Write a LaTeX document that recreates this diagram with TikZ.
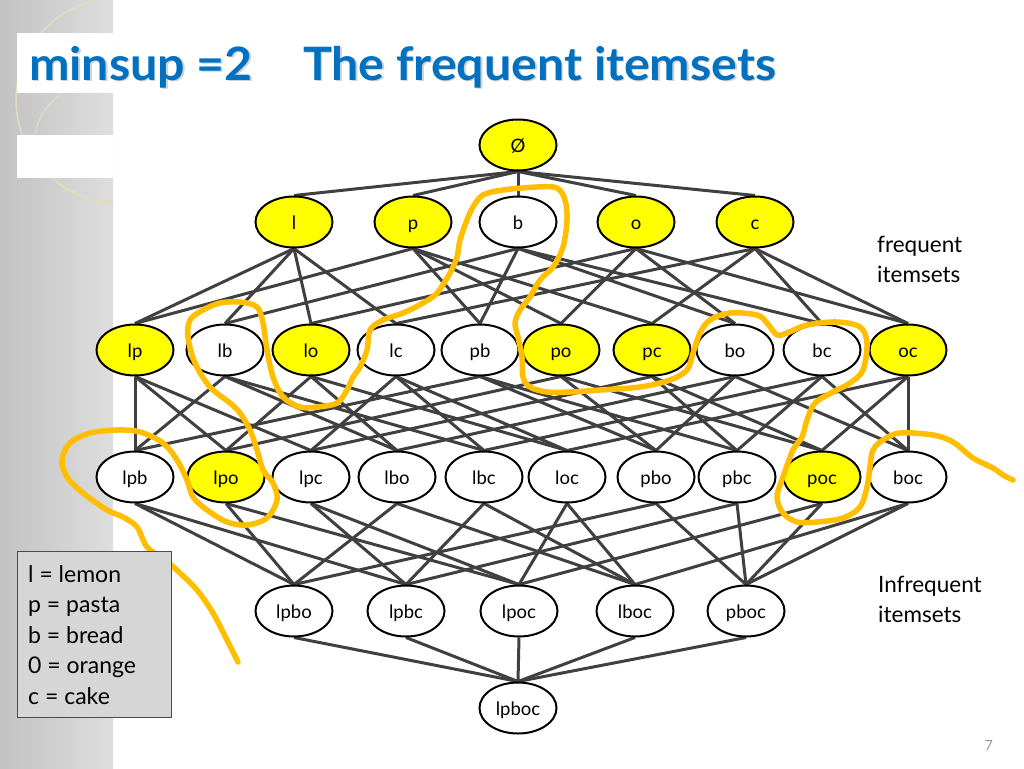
\documentclass[tikz,border=0pt]{standalone}
\usepackage{fontspec}
\setmainfont{Lato}
\newfontfamily\titlefont[FakeStretch=1.05]{Lato}
\usetikzlibrary{shapes.geometric}
\definecolor{titleblue}{RGB}{0,112,192}
\definecolor{hl}{RGB}{255,190,0}
\definecolor{nodeyellow}{RGB}{255,255,0}
\definecolor{arccol}{RGB}{225,220,190}
\definecolor{pagegray}{RGB}{150,150,135}
\pgfdeclarelayer{bglayer}
\pgfdeclarelayer{edgelayer}
\pgfsetlayers{bglayer,edgelayer,main}
\begin{document}
\begin{tikzpicture}[x=1pt,y=-1pt,
  setnode/.style={ellipse, draw=black, line width=2pt, minimum width=77pt, minimum height=51pt,
    inner sep=0pt, fill=white, font=\fontsize{18.5}{18.5}\selectfont, text height=17pt, text depth=2.5pt},
  freq/.style={setnode, fill=nodeyellow},
  latedge/.style={draw=black!75, line width=3pt},
  hand/.style={draw=hl, line width=5.5pt, line cap=round, line join=round},
  titletext/.style={anchor=base west, text=titleblue, font=\titlefont\fontsize{46}{46}\selectfont\bfseries, inner sep=0pt},
  titleshadow/.style={anchor=base west, text=black!18, font=\titlefont\fontsize{46}{46}\selectfont\bfseries, inner sep=0pt},
  sidelabel/.style={anchor=base west, font=\fontsize{22.5}{22.5}\selectfont, inner sep=0pt},
  legendline/.style={anchor=base west, font=\fontsize{23}{23}\selectfont, inner sep=0pt},
  legendbox/.style={draw=black!70, fill=black!16, line width=1pt, minimum width=154pt, minimum height=166pt, inner sep=0pt}
]
\useasboundingbox (0,0) rectangle (1024,768);
\begin{pgfonlayer}{bglayer}
% background strip
\shade[left color=black!24, right color=black!13] (0,0) rectangle (113,768);
\begin{scope}
  \clip (0,0) rectangle (113,210);
  \draw[arccol, line width=1.5pt] (118,100) circle [radius=102];
  \draw[arccol, line width=1.2pt] (125,140) ellipse [x radius=90, y radius=65];
\end{scope}
\fill[white] (17,33) rectangle (113,93);
\fill[white] (17,135) rectangle (113,178);
\end{pgfonlayer}

% title
\node[titleshadow] (s1) at (30.5,81.5) {minsup =2};
\node[titleshadow] (s2) at (304.5,81.5) {The frequent itemsets};
\node[titletext] (t1) at (29,80) {minsup =2};
\node[titletext] (t2) at (303,80) {The frequent itemsets};

% nodes
\node[freq] (e) at (518,145) {Ø};
\node[freq] (l) at (294,222) {l};
\node[freq] (p) at (413,222) {p};
\node[setnode] (b) at (518,222) {b};
\node[freq] (o) at (636,222) {o};
\node[freq] (c) at (755,222) {c};

\node[freq] (lp) at (135,350) {lp};
\node[setnode] (lb) at (225,350) {lb};
\node[freq] (lo) at (311,350) {lo};
\node[setnode] (lc) at (396,350) {lc};
\node[setnode] (pb) at (480,350) {pb};
\node[freq] (po) at (561,350) {po};
\node[freq] (pc) at (652,350) {pc};
\node[setnode] (bo) at (735,350) {bo};
\node[setnode] (bc) at (822,350) {bc};
\node[freq] (oc) at (908,350) {oc};

\node[setnode] (lpb) at (135,477) {lpb};
\node[freq] (lpo) at (226,477) {lpo};
\node[setnode] (lpc) at (311,477) {lpc};
\node[setnode] (lbo) at (397,477) {lbo};
\node[setnode] (lbc) at (484,477) {lbc};
\node[setnode] (loc) at (567,477) {loc};
\node[setnode] (pbo) at (656,477) {pbo};
\node[setnode] (pbc) at (737,477) {pbc};
\node[freq] (poc) at (822,477) {poc};
\node[setnode] (boc) at (908,477) {boc};

\node[setnode] (lpbo) at (294,611) {lpbo};
\node[setnode] (lpbc) at (406,611) {lpbc};
\node[setnode] (lpoc) at (519,611) {lpoc};
\node[setnode] (lboc) at (635,611) {lboc};
\node[setnode] (pboc) at (746,611) {pboc};

\node[setnode] (lpboc) at (518,708) {lpboc};

% edges (behind nodes)
\begin{pgfonlayer}{edgelayer}
\foreach \a/\b in {e/l,e/p,e/b,e/o,e/c,
  l/lp,l/lb,l/lo,l/lc, p/lp,p/pb,p/po,p/pc, b/lb,b/pb,b/bo,b/bc, o/lo,o/po,o/bo,o/oc, c/lc,c/pc,c/bc,c/oc,
  lp/lpb,lp/lpo,lp/lpc, lb/lpb,lb/lbo,lb/lbc, lo/lpo,lo/lbo,lo/loc, lc/lpc,lc/lbc,lc/loc,
  pb/lpb,pb/pbo,pb/pbc, po/lpo,po/pbo,po/poc, pc/lpc,pc/pbc,pc/poc, bo/lbo,bo/pbo,bo/boc,
  bc/lbc,bc/pbc,bc/boc, oc/loc,oc/poc,oc/boc,
  lpb/lpbo,lpb/lpbc, lpo/lpbo,lpo/lpoc, lpc/lpbc,lpc/lpoc, lbo/lpbo,lbo/lboc, lbc/lpbc,lbc/lboc,
  loc/lpoc,loc/lboc, pbo/lpbo,pbo/pboc, pbc/lpbc,pbc/pboc, poc/lpoc,poc/pboc, boc/lboc,boc/pboc,
  lpbo/lpboc,lpbc/lpboc,lpoc/lpboc,lboc/lpboc,pboc/lpboc}
  {\draw[latedge] (\a.south) -- (\b.north);}
\end{pgfonlayer}

% side labels
\node[sidelabel] (f1) at (877,252) {frequent};
\node[sidelabel] (f2) at (877,282) {itemsets};
\node[sidelabel] (i1) at (878,592) {Infrequent};
\node[sidelabel] (i2) at (878,622) {itemsets};
\node[anchor=base, text=pagegray, font=\fontsize{14}{14}\selectfont, inner sep=0pt] (pg) at (989,750) {7};

% hand-drawn annotation
\draw[hand] plot[smooth, tension=0.55] coordinates {
(238,662) (227,640) (213,613) (197,590) (180,573) (165,560) (147,547) (137,527) (123,517) (107,510)
(83,493) (67,477) (62,460) (70,443) (90,433) (117,430) (140,432) (163,443) (177,460) (187,480)
(193,497) (207,510) (227,522) (247,525) (267,518) (277,500) (273,483) (263,470) (257,450) (250,430)
(240,413) (230,403) (210,387) (195,363) (188,337) (190,320) (203,310) (220,303) (240,302) (257,307)
(263,323) (267,350) (273,377) (283,397) (300,407) (317,407) (337,403) (347,390) (353,377) (360,367)
(367,350) (370,330) (383,320) (403,313) (423,303) (437,293) (450,273) (457,257) (460,240) (467,220)
(473,207) (483,195) (503,190) (537,187) (557,188) (565,200) (567,220) (563,247) (553,267) (540,280)
(530,297) (520,310) (515,323) (518,337) (522,357) (523,377) (530,387) (547,392) (570,392) (600,390)
(640,387) (670,380) (687,370) (693,353) (700,333) (710,320) (730,313) (757,315) (767,323) (777,335)
(787,333) (807,325) (837,322) (860,327) (867,343) (863,370) (850,383) (833,392) (815,403) (807,420)
(802,437) (793,450) (783,477) (777,497) (783,513) (797,522) (817,522) (843,518) (860,507) (867,487)
(870,467) (873,450) (883,440) (900,433) (933,435) (953,442) (973,458) (993,468) (1003,475) (1013,480)};

% legend
\node[legendbox, anchor=north west] (legend) at (17,551) {};
\node[legendline] (lg1) at (28,582) {l = lemon};
\node[legendline] (lg2) at (28,612.5) {p = pasta};
\node[legendline] (lg3) at (28,643) {b = bread};
\node[legendline] (lg4) at (28,673.5) {0 = orange};
\node[legendline] (lg5) at (28,704) {c = cake};
\end{tikzpicture}
\end{document}
